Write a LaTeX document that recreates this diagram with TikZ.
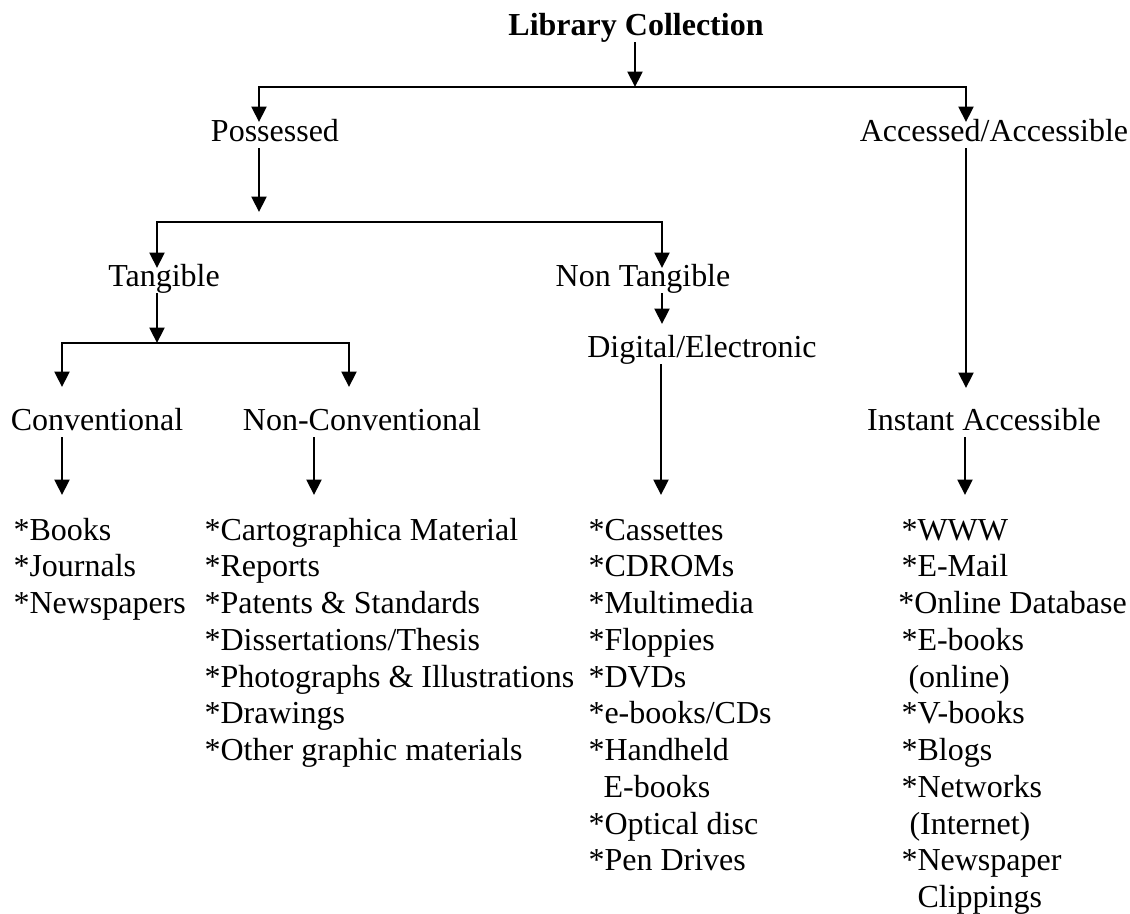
\documentclass[tikz,border=0pt]{standalone}
\usepackage{fontspec}
\setmainfont{Liberation Serif}
\usetikzlibrary{arrows.meta}

\begin{document}
\begin{tikzpicture}[x=0.375pt, y=-0.375pt,
  head/.style={inner sep=0pt, text depth=2.6pt, anchor=base, font=\fontsize{12}{13.78}\selectfont},
  items/.style={inner sep=0pt, anchor=base west, align=left, font=\fontsize{12}{13.78}\selectfont},
  arr/.style={line width=0.85pt, -{Triangle[length=5.8pt,width=5.6pt]}}]

\useasboundingbox (0,0) rectangle (1130,913);

%headings
\node[head, font=\fontsize{12}{13.78}\selectfont\bfseries] (lib) at (636,35) {Library Collection};
\node[head] (poss) at (275,141) {Possessed};
\node[head] (acc) at (994,141) {Accessed/Accessible};
\node[head] (tan) at (164,286) {Tangible};
\node[head] (nt) at (643,286) {Non Tangible};
\node[head] (dig) at (702,357) {Digital/Electronic};
\node[head] (conv) at (97,430) {Conventional};
\node[head] (nconv) at (362,430) {Non-Conventional};
\node[head] (inst) at (984,430) {Instant Accessible};

%lists (placed on the baseline of their last line)
\node[items] (books) at (13,613.5) {*Books\\{*}Journals\\{*}Newspapers};
\node[items] (ncitems) at (204,760.5) {*Cartographica Material\\{*}Reports\\{*}Patents \& Standards\\{*}Dissertations/Thesis\\{*}Photographs \& Illustrations\\{*}Drawings\\{*}Other graphic materials};
\node[items] (media) at (588,870.75) {*Cassettes\\{*}CDROMs\\{*}Multimedia\\{*}Floppies\\{*}DVDs\\{*}e-books/CDs\\{*}Handheld\\\hspace*{0.47em}E-books\\{*}Optical disc\\{*}Pen Drives};
\node[items] (web) at (901,907.5) {*WWW\\{*}E-Mail\\\hspace*{-0.1em}*Online Database\\{*}E-books\\\hspace*{0.22em}(online)\\{*}V-books\\{*}Blogs\\{*}Networks\\\hspace*{0.25em}(Internet)\\{*}Newspaper\\\hspace*{0.5em}Clippings};

\coordinate (hub0) at (635,87);
\coordinate (possIn) at (259,122);
\coordinate (accIn) at (966,122);
\coordinate (possOut) at (259,212);
\coordinate (hub1) at (259,222);
\coordinate (tanIn) at (157,268);
\coordinate (ntIn) at (662,268);
\coordinate (hub2) at (157,343);
\coordinate (convIn) at (62,387);
\coordinate (nconvIn) at (349,387);
\coordinate (digIn) at (662,324);
\coordinate (instIn) at (966,388);
\coordinate (booksIn) at (62,495);
\coordinate (ncitemsIn) at (314,495);
\coordinate (mediaIn) at (661,495);
\coordinate (webIn) at (965,495);

\draw[arr] (lib.south -| hub0) -- (hub0);
\draw[arr] (hub0) -| (possIn);
\draw[arr] (hub0) -| (accIn);

\draw[arr] (poss.south -| possOut) -- (possOut);
\draw[arr] (hub1) -| (tanIn);
\draw[arr] (hub1) -| (ntIn);

\draw[arr] (tan.south -| hub2) -- (hub2);
\draw[arr] (hub2) -| (convIn);
\draw[arr] (hub2) -| (nconvIn);

\draw[arr] (nt.south -| digIn) -- (digIn);
\draw[arr] (acc.south -| instIn) -- (instIn);

\draw[arr] (conv.south -| booksIn) -- (booksIn);
\draw[arr] (nconv.south -| ncitemsIn) -- (ncitemsIn);
\draw[arr] (dig.south -| mediaIn) -- (mediaIn);
\draw[arr] (inst.south -| webIn) -- (webIn);

\end{tikzpicture}
\end{document}
